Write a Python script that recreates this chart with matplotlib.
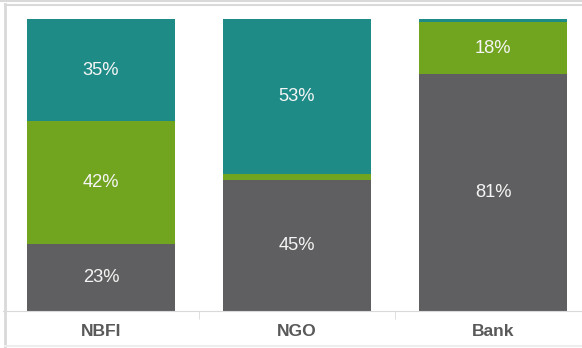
import matplotlib.pyplot as plt
import numpy as np
from matplotlib.lines import Line2D

plt.rcParams['font.family'] = ['Liberation Sans', 'DejaVu Sans']

categories = ['NBFI', 'NGO', 'Bank']
bottom_vals = [23, 45, 81]   # gray
middle_vals = [42, 2, 18]    # green
top_vals = [35, 53, 1]       # teal

colors = ['#5f5f61', '#72a51f', '#1f8b87']

W, H = 582, 348
fig = plt.figure(figsize=(W / 100, H / 100), dpi=100)
ax = fig.add_axes([3 / W, 37 / H, 588 / W, 292 / H])

x = np.arange(len(categories))
bottom = np.zeros(len(categories))
for vals, col in zip([bottom_vals, middle_vals, top_vals], colors):
    vals = np.array(vals, dtype=float)
    ax.bar(x, vals, bottom=bottom, width=0.755, color=col, linewidth=0)
    for xi, b, v in zip(x, bottom, vals):
        if v >= 5:
            ax.text(xi, b + v / 2, f'{int(v)}%', ha='center', va='center',
                    color='#f5f5f5', fontsize=13.2)
    bottom += vals

ax.set_xlim(-0.5, 2.5)
ax.set_ylim(0, 100)
ax.set_yticks([])
for s in ['top', 'right', 'left']:
    ax.spines[s].set_visible(False)
ax.spines['bottom'].set_color('#d9d9d9')
ax.set_xticks(x)
ax.set_xticklabels(categories, fontsize=12.6, fontweight='bold', color='#595959')
ax.tick_params(axis='x', length=0, pad=9)
ax.set_xticks([0.5, 1.5], minor=True)
ax.tick_params(axis='x', which='minor', length=6, color='#d9d9d9')

# outer frame
fig.add_artist(Line2D([5 / W, 5 / W], [0, 1 - 4 / H], color='#d9d9d9', lw=2))
fig.add_artist(Line2D([5 / W, 1], [1 - 4.5 / H, 1 - 4.5 / H], color='#d9d9d9', lw=1.5))
fig.add_artist(Line2D([0, 1], [1 - 0.5 / H, 1 - 0.5 / H], color='#d9d9d9', lw=1.5))
fig.add_artist(Line2D([5 / W, 1], [2 / H, 2 / H], color='#eeeeee', lw=1.5))

fig.savefig('out.png', dpi=100)
